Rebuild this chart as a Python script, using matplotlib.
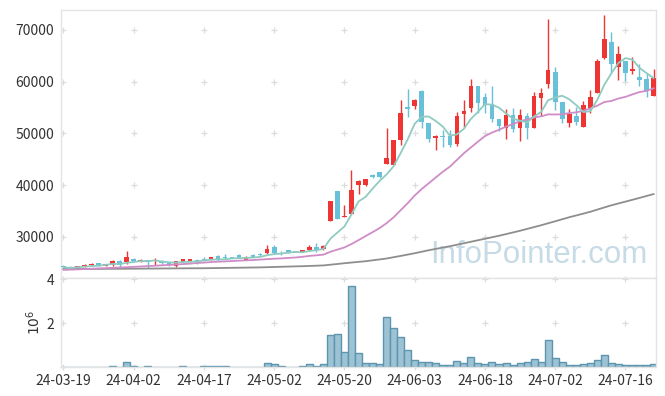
import numpy as np
import pandas as pd
import matplotlib
matplotlib.use("Agg")
import matplotlib.pyplot as plt

plt.rcParams['font.family'] = ['Noto Sans CJK KR', 'DejaVu Sans']

# KRX trading days (market holidays removed)
krx_holidays = ["2024-04-10", "2024-05-01", "2024-05-06", "2024-05-15", "2024-06-06"]
dates = pd.bdate_range("2024-03-19", "2024-07-22", freq="C", holidays=krx_holidays)

open_ = [24400, 24210, 24020, 24270, 24470, 24920, 24400, 24600, 25370, 25120,
         25760, 25240, 25500, 25240, 25370, 25050, 24340, 25120, 25180, 25560,
         25760, 25500, 26340, 26140, 26080, 26530, 25560, 26530, 26600, 26790,
         28070, 26920, 27430, 27170, 27050, 27370, 28070, 27560, 33100, 38890,
         33740, 34400, 39920, 39920, 41990, 42510, 44170, 43920, 48630, 55120,
         55380, 58220, 52030, 49080, 49520, 49520, 47970, 53770, 54990, 59180,
         57000, 55640, 52800, 51120, 53580, 51120, 53380, 51120, 56800, 59570,
         61880, 56090, 51970, 53380, 51320, 54870, 57890, 64530, 67680, 62910,
         64010, 62020, 60860, 60470, 57310]
high = [24450, 24260, 24400, 24650, 24850, 24980, 24780, 25560, 25420, 27170,
        25820, 25620, 25560, 25880, 25430, 25110, 25300, 25690, 25750, 25620,
        26140, 26070, 26400, 26660, 26140, 26590, 26200, 26590, 26860, 28330,
        28460, 27170, 27490, 27230, 27490, 28330, 28850, 28330, 36830, 38890,
        36190, 42950, 40900, 41270, 42050, 42570, 51010, 48810, 56540, 58600,
        56600, 58470, 52090, 49640, 50680, 50740, 54220, 56480, 60530, 59240,
        57890, 59180, 52860, 54680, 54870, 54800, 54030, 57960, 58730, 72070,
        62790, 56150, 54800, 55190, 56340, 58410, 64340, 72840, 69550, 66910,
        64070, 64840, 63370, 61630, 62400]
low = [24000, 23850, 23980, 24230, 24430, 24350, 24350, 24400, 24210, 24790,
       25180, 25180, 23960, 24600, 24800, 24410, 24210, 25060, 25120, 24730,
       25240, 25440, 25240, 25620, 25890, 25820, 25500, 26080, 26270, 26660,
       26660, 26400, 26920, 26980, 26990, 27310, 27110, 27500, 33100, 33480,
       33740, 34400, 38260, 39860, 41410, 41410, 44100, 43860, 47780, 53260,
       54740, 51120, 48300, 46810, 47340, 47340, 47530, 51010, 54220, 53910,
       53910, 52290, 50550, 49000, 50360, 48500, 49000, 51060, 53380, 58730,
       54540, 51970, 51320, 51640, 51260, 54030, 57830, 64470, 61630, 60340,
       60210, 61440, 59180, 57000, 57250]
close = [24080, 23880, 24340, 24600, 24790, 24400, 24730, 25240, 24470, 26010,
         25240, 25560, 25040, 25370, 24860, 24470, 25240, 25630, 25690, 25120,
         25500, 26010, 25760, 25820, 25950, 25880, 26140, 26140, 26400, 27690,
         26850, 26730, 26980, 27040, 27430, 28070, 27500, 28270, 36830, 33480,
         33930, 39090, 40830, 41210, 41470, 41470, 45330, 48750, 53910, 54740,
         56540, 52170, 48940, 49580, 49330, 47780, 53380, 54350, 59180, 55960,
         55450, 52800, 51450, 53580, 50870, 53580, 51120, 57250, 57890, 62270,
         56150, 52870, 53770, 52290, 55510, 57000, 64010, 68260, 63370, 65420,
         61750, 62460, 60400, 58220, 60730]
volume = [10000, 10000, 10000, 10000, 10000, 10000, 10000, 50000, 10000, 230000,
          50000, 10000, 50000, 10000, 10000, 10000, 10000, 50000, 10000, 10000,
          50000, 50000, 50000, 50000, 10000, 10000, 10000, 10000, 10000, 180000,
          120000, 50000, 10000, 10000, 50000, 140000, 50000, 140000, 1460000, 1510000,
          680000, 3700000, 640000, 180000, 180000, 140000, 2280000, 1780000, 1370000, 780000,
          320000, 230000, 230000, 180000, 90000, 90000, 270000, 180000, 460000, 180000,
          140000, 230000, 140000, 180000, 90000, 180000, 230000, 370000, 230000, 1230000,
          410000, 230000, 90000, 90000, 140000, 180000, 320000, 550000, 180000, 140000,
          90000, 90000, 90000, 90000, 140000]
# MA20 before 20 closes are available in the window
ma20_head = [23600, 23650, 23700, 23760, 23820, 23880, 23940, 24000, 24060, 24120,
             24190, 24260, 24330, 24400, 24480, 24560, 24640, 24720, 24800]
# long moving average (grey line)
ma60 = [23770, 23775, 23780, 23785, 23790, 23795, 23800, 23805, 23810, 23820,
        23830, 23840, 23850, 23860, 23870, 23880, 23890, 23900, 23910, 23915,
        23920, 23940, 23960, 23980, 24000, 24020, 24040, 24060, 24080, 24120,
        24160, 24200, 24240, 24280, 24310, 24360, 24410, 24460, 24600, 24740,
        24890, 25020, 25150, 25270, 25450, 25620, 25800, 26050, 26300, 26560,
        26820, 27110, 27400, 27660, 27920, 28170, 28460, 28750, 29040, 29330,
        29620, 29910, 30200, 30520, 30840, 31170, 31520, 31880, 32230, 32620,
        33000, 33390, 33780, 34130, 34480, 34840, 35260, 35680, 36090, 36450,
        36800, 37160, 37520, 37890, 38260]

x = np.arange(len(dates))
o = np.array(open_, dtype=float)
h = np.array(high, dtype=float)
l = np.array(low, dtype=float)
c = np.array(close, dtype=float)
cs = pd.Series(c)
ma5 = cs.rolling(5, min_periods=1).mean()
ma20 = cs.rolling(20).mean()
ma20.iloc[:len(ma20_head)] = ma20_head

UP = '#ef3434'
DOWN = '#68c1d9'
GRID = '#dcdcdc'
SPINE = '#e4e4e4'
TXT = '#333333'

fig = plt.figure(figsize=(6.65, 3.96), dpi=100)
ax = fig.add_axes([61 / 665, 1 - 278 / 396, 595 / 665, 268 / 396])
axv = fig.add_axes([61 / 665, 1 - 367 / 396, 595 / 665, 89 / 396], sharex=ax)

# candles
colors = [UP if cc >= oo else DOWN for oo, cc in zip(o, c)]
ax.vlines(x, l, h, colors=colors, lw=1.0, zorder=3)
body_lo = np.minimum(o, c)
body_h = np.maximum(np.abs(c - o), 120)
ax.bar(x, body_h, bottom=body_lo, width=0.66, color=colors, lw=0, zorder=3)

# moving averages
ax.plot(x, ma60, color='#8e8e8e', lw=1.3, zorder=4)
ax.plot(x, ma20, color='#cf8cc6', lw=1.3, zorder=4)
ax.plot(x, ma5, color='#8fcbc1', lw=1.3, zorder=4)

ax.text(0.803, 0.085, 'InfoPointer.com', transform=ax.transAxes, ha='center',
        va='center', fontsize=22.5, color='#c6dbe6',
        family=['Liberation Sans', 'DejaVu Sans'], zorder=1)

# volume
vol_m = np.array(volume) / 1e6
axv.bar(x, vol_m, width=1.0, color='#9cc2d4', edgecolor='#5d95ae', lw=1.0, zorder=1)

xticks = list(range(0, len(x), 10))
price_ticks = [30000, 40000, 50000, 60000, 70000]
vol_ticks = [0, 2, 4]

# small "+" marks at grid intersections
gx, gy = np.meshgrid(xticks, price_ticks)
ax.scatter(gx.ravel(), gy.ravel(), marker='+', s=22, color=GRID, lw=0.9, zorder=0)
gx, gy = np.meshgrid(xticks, vol_ticks)
axv.scatter(gx.ravel(), gy.ravel(), marker='+', s=22, color=GRID, lw=0.9, zorder=0,
            clip_on=False)

ax.set_xlim(-0.35, len(x) - 0.65)
ax.set_ylim(22030, 73860)
axv.set_ylim(0, 4.05)

ax.set_yticks(price_ticks)
axv.set_yticks([2, 4])
axv.set_xticks(xticks)
axv.set_xticklabels([dates[i].strftime('%y-%m-%d') for i in xticks])
ax.tick_params(axis='x', labelbottom=False)
for a in (ax, axv):
    a.tick_params(length=0, labelsize=10, colors=TXT, pad=5)
    for s in a.spines.values():
        s.set_color(SPINE)
        s.set_linewidth(1.0)
axv.set_ylabel(r'$10^6$', fontsize=10, color=TXT)
axv.yaxis.set_label_coords(-0.03, 0.5)

fig.savefig('out.png', dpi=100)
